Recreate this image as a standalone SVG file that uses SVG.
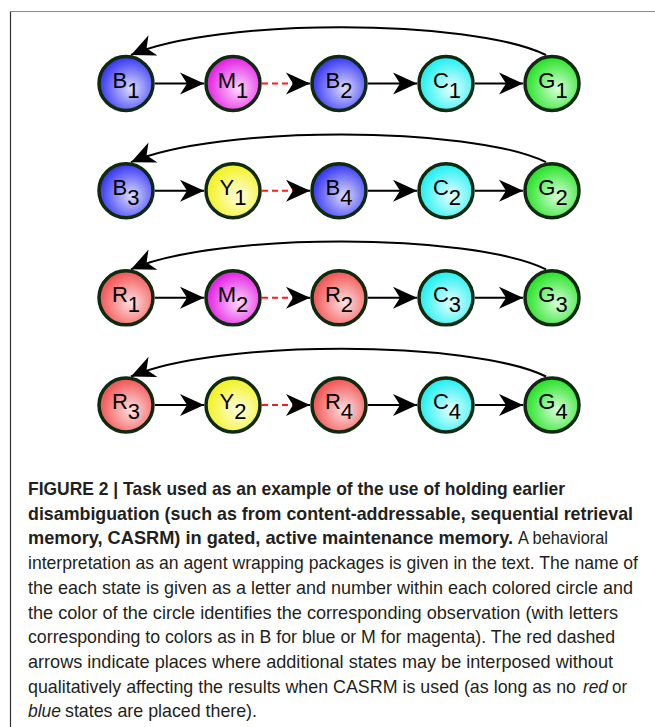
<svg xmlns="http://www.w3.org/2000/svg" width="655" height="727" viewBox="0 0 655 727">
<style>
.node{stroke:#0f2a10;stroke-width:3.5}
.lbl{font-family:"Liberation Sans",Arial,sans-serif;font-size:22px;fill:#000;text-anchor:middle}
.arr{stroke:#000;stroke-width:2;fill:none}
.dash{stroke:#ff1a1a;stroke-width:2;fill:none;stroke-dasharray:6 4}
.cap{font-family:"Liberation Sans",Arial,sans-serif;font-size:18.5px;fill:#231f20}
.b{font-weight:bold}
.i{font-style:italic}
</style>
<defs>
<radialGradient id="gB" cx="0.58" cy="0.58" r="0.62" fx="0.6" fy="0.6"><stop offset="0" stop-color="#dcdcff"/><stop offset="1" stop-color="#2a2af2"/></radialGradient>
<radialGradient id="gM" cx="0.58" cy="0.58" r="0.62" fx="0.6" fy="0.6"><stop offset="0" stop-color="#ffd8ff"/><stop offset="1" stop-color="#e010e0"/></radialGradient>
<radialGradient id="gC" cx="0.58" cy="0.58" r="0.62" fx="0.6" fy="0.6"><stop offset="0" stop-color="#e8ffff"/><stop offset="1" stop-color="#10eef0"/></radialGradient>
<radialGradient id="gG" cx="0.58" cy="0.58" r="0.62" fx="0.6" fy="0.6"><stop offset="0" stop-color="#d8ffd8"/><stop offset="1" stop-color="#18e018"/></radialGradient>
<radialGradient id="gY" cx="0.58" cy="0.58" r="0.62" fx="0.6" fy="0.6"><stop offset="0" stop-color="#ffffe0"/><stop offset="1" stop-color="#f2f010"/></radialGradient>
<radialGradient id="gR" cx="0.58" cy="0.58" r="0.62" fx="0.6" fy="0.6"><stop offset="0" stop-color="#ffe0e0"/><stop offset="1" stop-color="#f04848"/></radialGradient>
<marker id="ah" markerUnits="userSpaceOnUse" orient="auto" refX="0" refY="0" markerWidth="30" markerHeight="30" overflow="visible"><path d="M0,0 L-24,-11 L-17,0 L-24,11 Z" fill="#000"/></marker>
</defs>
<path d="M10.5,727 L10.5,11.5" stroke="#333" stroke-width="1.2" fill="none"/>
<path d="M10,11.5 L655,11.5" stroke="#8a8a8a" stroke-width="1.2" fill="none"/>
<g id="connectors">
<path class="arr" d="M155,83.5 L204,83.5" marker-end="url(#ah)"/>
<path class="dash" d="M262,83.5 L310,83.5"/><path class="arr" d="M305,83.5 L310,83.5" marker-end="url(#ah)"/>
<path class="arr" d="M368,83.5 L417,83.5" marker-end="url(#ah)"/>
<path class="arr" d="M475,83.5 L523,83.5" marker-end="url(#ah)"/>
<path class="arr" d="M546,55 C470,18 215,18 131,55" marker-end="url(#ah)"/>
<path class="arr" d="M155,190.7 L204,190.7" marker-end="url(#ah)"/>
<path class="dash" d="M262,190.7 L310,190.7"/><path class="arr" d="M305,190.7 L310,190.7" marker-end="url(#ah)"/>
<path class="arr" d="M368,190.7 L417,190.7" marker-end="url(#ah)"/>
<path class="arr" d="M475,190.7 L523,190.7" marker-end="url(#ah)"/>
<path class="arr" d="M546,162.2 C470,125.2 215,125.2 131,162.2" marker-end="url(#ah)"/>
<path class="arr" d="M155,297.8 L204,297.8" marker-end="url(#ah)"/>
<path class="dash" d="M262,297.8 L310,297.8"/><path class="arr" d="M305,297.8 L310,297.8" marker-end="url(#ah)"/>
<path class="arr" d="M368,297.8 L417,297.8" marker-end="url(#ah)"/>
<path class="arr" d="M475,297.8 L523,297.8" marker-end="url(#ah)"/>
<path class="arr" d="M546,269.3 C470,232.3 215,232.3 131,269.3" marker-end="url(#ah)"/>
<path class="arr" d="M155,405 L204,405" marker-end="url(#ah)"/>
<path class="dash" d="M262,405 L310,405"/><path class="arr" d="M305,405 L310,405" marker-end="url(#ah)"/>
<path class="arr" d="M368,405 L417,405" marker-end="url(#ah)"/>
<path class="arr" d="M475,405 L523,405" marker-end="url(#ah)"/>
<path class="arr" d="M546,376.5 C470,339.5 215,339.5 131,376.5" marker-end="url(#ah)"/>
</g>
<g id="B1"><circle class="node" cx="126" cy="83.5" r="27" fill="url(#gB)"/><text class="lbl" x="126" y="87.5">B<tspan dy="10">1</tspan></text></g>
<g id="M1"><circle class="node" cx="233" cy="83.5" r="27" fill="url(#gM)"/><text class="lbl" x="233" y="87.5">M<tspan dy="10">1</tspan></text></g>
<g id="B2"><circle class="node" cx="339" cy="83.5" r="27" fill="url(#gB)"/><text class="lbl" x="339" y="87.5">B<tspan dy="10">2</tspan></text></g>
<g id="C1"><circle class="node" cx="446" cy="83.5" r="27" fill="url(#gC)"/><text class="lbl" x="447" y="87.5">C<tspan dy="10">1</tspan></text></g>
<g id="G1"><circle class="node" cx="552" cy="83.5" r="27" fill="url(#gG)"/><text class="lbl" x="553" y="87.5">G<tspan dy="10">1</tspan></text></g>
<g id="B3"><circle class="node" cx="126" cy="190.7" r="27" fill="url(#gB)"/><text class="lbl" x="126" y="194.7">B<tspan dy="10">3</tspan></text></g>
<g id="Y1"><circle class="node" cx="233" cy="190.7" r="27" fill="url(#gY)"/><text class="lbl" x="233" y="194.7">Y<tspan dy="10">1</tspan></text></g>
<g id="B4"><circle class="node" cx="339" cy="190.7" r="27" fill="url(#gB)"/><text class="lbl" x="339" y="194.7">B<tspan dy="10">4</tspan></text></g>
<g id="C2"><circle class="node" cx="446" cy="190.7" r="27" fill="url(#gC)"/><text class="lbl" x="447" y="194.7">C<tspan dy="10">2</tspan></text></g>
<g id="G2"><circle class="node" cx="552" cy="190.7" r="27" fill="url(#gG)"/><text class="lbl" x="553" y="194.7">G<tspan dy="10">2</tspan></text></g>
<g id="R1"><circle class="node" cx="126" cy="297.8" r="27" fill="url(#gR)"/><text class="lbl" x="126" y="301.8">R<tspan dy="10">1</tspan></text></g>
<g id="M2"><circle class="node" cx="233" cy="297.8" r="27" fill="url(#gM)"/><text class="lbl" x="233" y="301.8">M<tspan dy="10">2</tspan></text></g>
<g id="R2"><circle class="node" cx="339" cy="297.8" r="27" fill="url(#gR)"/><text class="lbl" x="339" y="301.8">R<tspan dy="10">2</tspan></text></g>
<g id="C3"><circle class="node" cx="446" cy="297.8" r="27" fill="url(#gC)"/><text class="lbl" x="447" y="301.8">C<tspan dy="10">3</tspan></text></g>
<g id="G3"><circle class="node" cx="552" cy="297.8" r="27" fill="url(#gG)"/><text class="lbl" x="553" y="301.8">G<tspan dy="10">3</tspan></text></g>
<g id="R3"><circle class="node" cx="126" cy="405" r="27" fill="url(#gR)"/><text class="lbl" x="126" y="409">R<tspan dy="10">3</tspan></text></g>
<g id="Y2"><circle class="node" cx="233" cy="405" r="27" fill="url(#gY)"/><text class="lbl" x="233" y="409">Y<tspan dy="10">2</tspan></text></g>
<g id="R4"><circle class="node" cx="339" cy="405" r="27" fill="url(#gR)"/><text class="lbl" x="339" y="409">R<tspan dy="10">4</tspan></text></g>
<g id="C4"><circle class="node" cx="446" cy="405" r="27" fill="url(#gC)"/><text class="lbl" x="447" y="409">C<tspan dy="10">4</tspan></text></g>
<g id="G4"><circle class="node" cx="552" cy="405" r="27" fill="url(#gG)"/><text class="lbl" x="553" y="409">G<tspan dy="10">4</tspan></text></g>
<g id="caption">
<text class="cap b" x="28" y="495" textLength="537" lengthAdjust="spacingAndGlyphs">FIGURE 2 | Task used as an example of the use of holding earlier</text>
<text class="cap b" x="28" y="519.7" textLength="605" lengthAdjust="spacingAndGlyphs">disambiguation (such as from content-addressable, sequential retrieval</text>
<text class="cap b" x="28" y="544.4" textLength="485" lengthAdjust="spacingAndGlyphs">memory, CASRM) in gated, active maintenance memory.</text>
<text class="cap" x="518" y="544.4" textLength="90" lengthAdjust="spacingAndGlyphs">A behavioral</text>
<text class="cap" x="28" y="569.1" textLength="610" lengthAdjust="spacingAndGlyphs">interpretation as an agent wrapping packages is given in the text. The name of</text>
<text class="cap" x="28" y="593.8" textLength="605" lengthAdjust="spacingAndGlyphs">the each state is given as a letter and number within each colored circle and</text>
<text class="cap" x="28" y="618.5" textLength="590" lengthAdjust="spacingAndGlyphs">the color of the circle identifies the corresponding observation (with letters</text>
<text class="cap" x="28" y="643.2" textLength="587" lengthAdjust="spacingAndGlyphs">corresponding to colors as in B for blue or M for magenta). The red dashed</text>
<text class="cap" x="28" y="667.9" textLength="585" lengthAdjust="spacingAndGlyphs">arrows indicate places where additional states may be interposed without</text>
<text class="cap" x="28" y="692.6" textLength="548" lengthAdjust="spacingAndGlyphs">qualitatively affecting the results when CASRM is used (as long as no</text>
<text class="cap i" x="583" y="692.6" textLength="25" lengthAdjust="spacingAndGlyphs">red</text>
<text class="cap" x="612" y="692.6" textLength="15" lengthAdjust="spacingAndGlyphs">or</text>
<text class="cap i" x="28" y="717.3" textLength="33" lengthAdjust="spacingAndGlyphs">blue</text>
<text class="cap" x="65" y="717.3" textLength="192" lengthAdjust="spacingAndGlyphs">states are placed there).</text>
</g>
</svg>
